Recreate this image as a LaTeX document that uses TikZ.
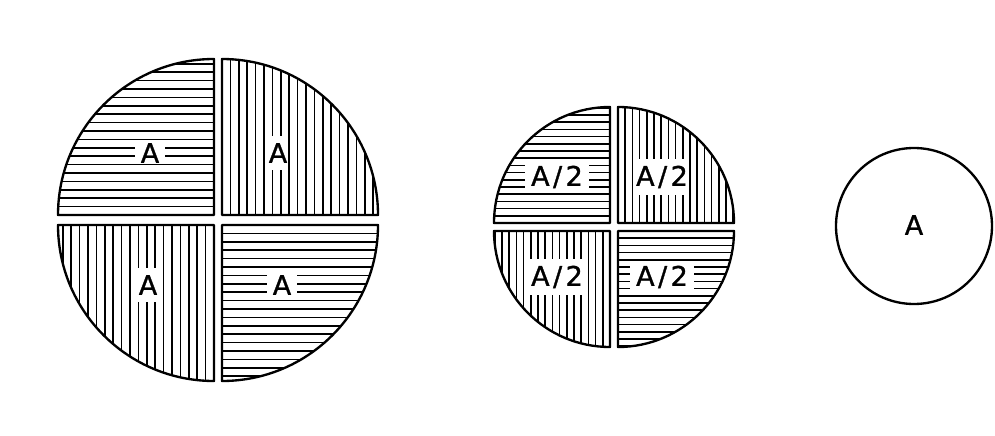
\documentclass[tikz,border=0pt]{standalone}
\usepackage{fontspec}
\setmainfont{DejaVu Sans}[FakeBold=1.2]
\usepackage{tikz}

\begin{document}
\begin{tikzpicture}[
    x=0.03cm, y=0.03cm,
    hatch/.style={line width=1.5pt},
    outline/.style={line width=2pt, line join=round},
    lbl/.style={font=\fontsize{23}{27}\selectfont, inner sep=0pt},
    hlbl/.style={lbl, fill=white, inner xsep=5pt, inner ysep=1pt},
    vlbl/.style={lbl, fill=white, inner xsep=1pt, inner ysep=6pt}
]
    \useasboundingbox (0,0) rectangle (995,435);

    % quarters with horizontal lines: corner x/corner y/start angle/radius/spacing
    \foreach \cx/\cy/\a/\r/\d in {214/220/90/156/8.4, 222/210/270/156/8.4, 610/212/90/116/7.2, 618/204/270/116/7.2} {
        \begin{scope}
            \clip (\cx,\cy) -- ++(\a:\r) arc[start angle=\a, delta angle=90, radius=\r] -- cycle;
            \foreach \k in {-20,...,20}
                \draw[hatch] (\cx-\r,\cy+\k*\d) -- ++(2*\r,0);
        \end{scope}
        \draw[outline] (\cx,\cy) -- ++(\a:\r) arc[start angle=\a, delta angle=90, radius=\r] -- cycle;
    }

    % quarters with vertical lines
    \foreach \cx/\cy/\a/\r/\d in {222/220/0/156/8.4, 214/210/180/156/8.4, 618/212/0/116/7.2, 610/204/180/116/7.2} {
        \begin{scope}
            \clip (\cx,\cy) -- ++(\a:\r) arc[start angle=\a, delta angle=90, radius=\r] -- cycle;
            \foreach \k in {-20,...,20}
                \draw[hatch] (\cx+\k*\d,\cy-\r) -- ++(0,2*\r);
        \end{scope}
        \draw[outline] (\cx,\cy) -- ++(\a:\r) arc[start angle=\a, delta angle=90, radius=\r] -- cycle;
    }

    % labels
    \node[hlbl] (bigtl) at (150,282) {A};
    \node[vlbl] (bigtr) at (278,282) {A};
    \node[vlbl] (bigbl) at (148,150) {A};
    \node[hlbl] (bigbr) at (282,150) {A};

    \node[hlbl] (midtl) at (557,258) {A\kern3pt/\kern3pt2};
    \node[vlbl] (midtr) at (662,258) {A\kern3pt/\kern3pt2};
    \node[vlbl] (midbl) at (557,158) {A\kern3pt/\kern3pt2};
    \node[hlbl] (midbr) at (662,158) {A\kern3pt/\kern3pt2};

    \draw[outline] (914,209) circle[radius=78];
    \node[lbl] (small) at (914,210) {A};
\end{tikzpicture}
\end{document}
